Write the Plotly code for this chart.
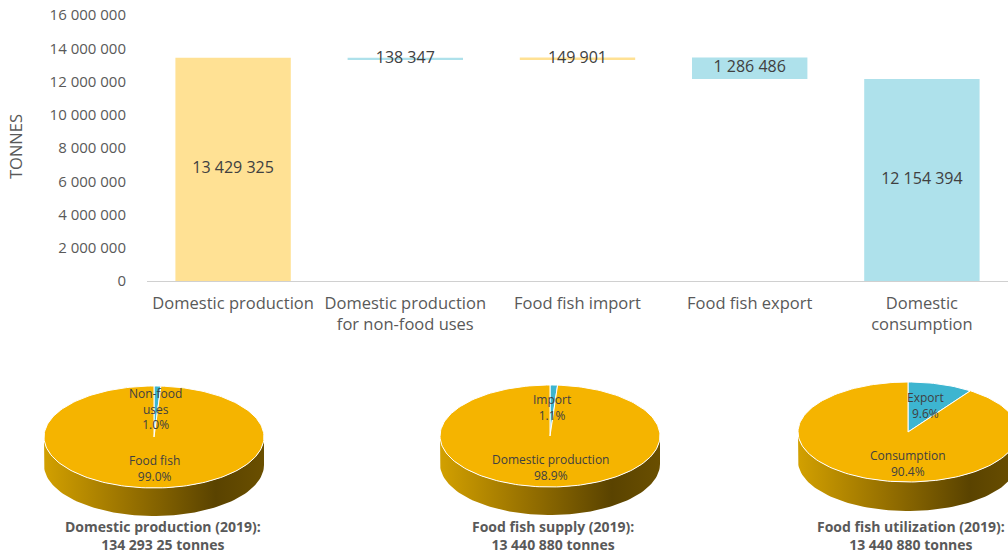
import numpy as np
import plotly.graph_objects as go

# --- data -------------------------------------------------------------
categories = [
    "Domestic production",
    "Domestic production<br>for non-food uses",
    "Food fish import",
    "Food fish export",
    "Domestic<br>consumption",
]
flows = [13429325, -138347, 149901, -1286486, 12154394]
measures = ["total", "delta", "delta", "delta", "total"]

y_ticks = [0, 2000000, 4000000, 6000000, 8000000, 10000000, 12000000, 14000000, 16000000]

pie_titles = [
    "Domestic production (2019):<br>134 293 25 tonnes",
    "Food fish supply (2019):<br>13 440 880 tonnes",
    "Food fish utilization (2019):<br>13 440 880 tonnes",
]
pie_labels = [["Non-food<br>uses", "Food fish"], ["Import", "Domestic production"], ["Export", "Consumption"]]
pie_shares = [[1.0, 99.0], [1.1, 98.9], [9.6, 90.4]]

# --- style ------------------------------------------------------------
W, H = 1008, 555
FONT = "Open Sans"
GREY = "#595959"
DARK = "#404040"
YELLOW = "#FFE194"
CYAN = "#AEE1EB"
GOLD = "#F5B400"
TEAL = "#3DB5D0"
bar_colors = [YELLOW, CYAN, YELLOW, CYAN, CYAN]
side_scale = [[0, "#d2a000"], [0.4, "#967000"], [0.78, "#5a4300"], [1, "#6a4f00"]]

# pie placement in page pixels (center x, center y, radius x, radius y, depth, title x)
pie_geo = [(154, 437, 110, 51, 28, 163), (550, 436, 110, 51, 28, 553), (908, 432, 110, 50, 29, 911)]


def fmt(v):
    return f"{v:,}".replace(",", " ")


# waterfall bases
bases, heights, running = [], [], 0
for v, m in zip(flows, measures):
    if m == "total":
        bases.append(0)
        heights.append(v)
        running = v
    else:
        bases.append(running + min(v, 0))
        heights.append(abs(v))
        running += v
mids = [b + h / 2 for b, h in zip(bases, heights)]

fig = go.Figure()
fig.add_trace(go.Bar(
    x=categories, y=heights, base=bases, width=0.67,
    marker=dict(color=bar_colors, line_width=0),
    hoverinfo="skip",
))
fig.add_trace(go.Scatter(
    x=categories, y=mids, mode="text",
    text=[fmt(abs(v)) for v in flows],
    textfont=dict(family=FONT, size=16, color=DARK),
    hoverinfo="skip",
))

# --- pseudo 3d pies ---------------------------------------------------
for (cx, cy, rx, ry, d, tx), labels, shares, title in zip(pie_geo, pie_labels, pie_shares, pie_titles):
    t = np.linspace(0, np.pi, 80)
    sx = np.concatenate([cx + rx * np.cos(t), cx + rx * np.cos(t[::-1])])
    sy = np.concatenate([cy + ry * np.sin(t), cy + d + ry * np.sin(t[::-1])])
    fig.add_trace(go.Scatter(
        x=sx, y=sy, xaxis="x2", yaxis="y2", mode="lines", fill="toself",
        line=dict(width=0, color="rgba(0,0,0,0)"),
        fillgradient=dict(type="horizontal", colorscale=side_scale),
        hoverinfo="skip",
    ))
    start = 0.0
    for i, (lab, share) in enumerate(zip(labels, shares)):
        a0 = start
        a1 = start + 2 * np.pi * share / 100
        th = np.linspace(a0, a1, max(4, int(share * 2)))
        px = np.concatenate([[cx], cx + rx * np.sin(th), [cx]])
        py = np.concatenate([[cy], cy - ry * np.cos(th), [cy]])
        fig.add_trace(go.Scatter(
            x=px, y=py, xaxis="x2", yaxis="y2", mode="lines", fill="toself",
            fillcolor=TEAL if i == 0 else GOLD,
            line=dict(color="white", width=1),
            hoverinfo="skip",
        ))
        mid = (a0 + a1) / 2
        if i == 0:
            lx, ly = cx + 0.55 * rx * np.sin(mid), cy - 0.55 * ry * np.cos(mid)
        else:
            lx, ly = cx, cy + 0.62 * ry
        fig.add_annotation(
            x=lx, y=ly, xref="x2", yref="y2", showarrow=False,
            text=f"{lab}<br>{share:.1f}%",
            font=dict(family=FONT, size=12, color=DARK),
        )
        start = a1
    fig.add_annotation(
        x=tx, y=535, xref="x2", yref="y2", showarrow=False,
        text=f"<b>{title}</b>",
        font=dict(family=FONT, size=14, color=GREY),
    )

fig.add_annotation(
    x=16 / W, y=1 - 147 / H, xref="paper", yref="paper", showarrow=False,
    xanchor="center", yanchor="middle",
    text="TONNES", textangle=-90,
    font=dict(family=FONT, size=16.5, color=GREY),
)

fig.update_layout(
    width=W, height=H,
    margin=dict(l=0, r=0, t=0, b=0),
    paper_bgcolor="white", plot_bgcolor="white",
    showlegend=False,
    separators=". ",
    font=dict(family=FONT, color=GREY),
    xaxis=dict(
        domain=[147 / W, 1], showgrid=False, showline=True, linecolor="#d0d0d0",
        ticks="", ticklabelstandoff=7, tickfont=dict(size=16.5, color=GREY),
        automargin=False, fixedrange=True,
    ),
    yaxis=dict(
        domain=[1 - 281 / H, 1 - 15 / H], range=[0, 16000000],
        tickvals=y_ticks, tickformat=",d", showgrid=False, zeroline=False,
        ticklabelstandoff=20, tickfont=dict(size=15, color=GREY),
        automargin=False, fixedrange=True,
    ),
    xaxis2=dict(domain=[0, 1], range=[0, W], visible=False, automargin=False, fixedrange=True),
    yaxis2=dict(domain=[0, 1 - 360 / H], range=[H, 360], visible=False, automargin=False, fixedrange=True),
)

# drop the default page margin so the figure fills the window exactly
fig.write_html(
    "out.html",
    config={"displayModeBar": False},
    post_script="document.body.style.margin = '0';",
)
